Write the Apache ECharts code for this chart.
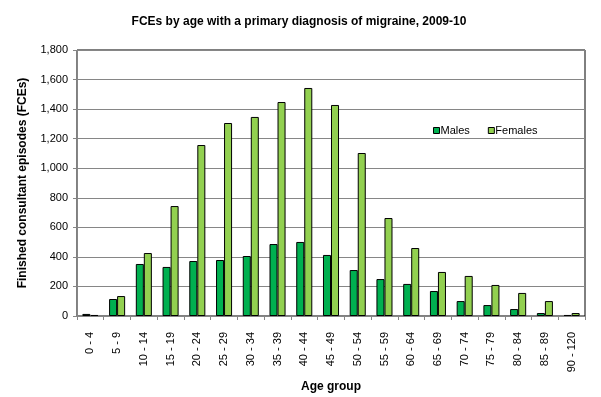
<!DOCTYPE html>
<html><head><meta charset="utf-8">
<script src="https://cdn.jsdelivr.net/npm/echarts@6/dist/echarts.min.js"></script>
<style>html,body{margin:0;padding:0;background:#fff}#c{width:601px;height:397px}</style>
</head><body><div id="c"></div>
<script>
var categories = ["0 - 4","5 - 9","10 - 14","15 - 19","20 - 24","25 - 29","30 - 34","35 - 39","40 - 44","45 - 49","50 - 54","55 - 59","60 - 64","65 - 69","70 - 74","75 - 79","80 - 84","85 - 89","90 - 120"];
var males = [14,115,352,332,372,379,406,487,501,413,311,250,217,169,101,74,47,20,7];
var females = [7,135,426,744,1157,1306,1347,1448,1543,1428,1103,663,460,298,271,210,156,101,20];
var yTicks = [0,200,400,600,800,1000,1200,1400,1600,1800];

var font = 'Liberation Sans, Arial, sans-serif';
var chart = echarts.init(document.getElementById('c'));
chart.setOption({
  animation:false,
  backgroundColor:'#fff',
  textStyle:{fontFamily:font},
  title:{text:'FCEs by age with a primary diagnosis of migraine, 2009-10',left:294,textAlign:'center',top:11,
    textStyle:{fontFamily:font,fontSize:12,fontWeight:'bold',color:'#000'}},
  legend:{left:428,top:120,itemWidth:6,itemHeight:6,itemGap:18,icon:'rect',
    itemStyle:{borderColor:'#000',borderWidth:1},
    textStyle:{fontFamily:font,fontSize:11,color:'#000',padding:[0,0,0,-4]},
    data:['Males','Females']},
  grid:{left:77,right:16,top:50,bottom:81,outerBoundsMode:'none',containLabel:false,show:true,borderColor:'#000',borderWidth:1,backgroundColor:'transparent'},
  xAxis:{type:'category',data:categories,
    name:'Age group',nameLocation:'middle',nameGap:63,
    nameTextStyle:{fontFamily:font,fontSize:12,fontWeight:'bold',color:'#000'},
    axisLine:{lineStyle:{color:'#868686',width:1}},
    axisTick:{show:true,length:4,lineStyle:{color:'#868686'}},
    axisLabel:{rotate:90,fontSize:11,color:'#000',margin:16,fontFamily:font,interval:0}},
  yAxis:{type:'value',min:yTicks[0],max:yTicks[yTicks.length-1],interval:200,
    name:'Finished consultant episodes (FCEs)',nameLocation:'middle',nameGap:48,
    nameTextStyle:{fontFamily:font,fontSize:12,fontWeight:'bold',color:'#000'},
    axisLine:{show:true,lineStyle:{color:'#868686',width:1}},
    axisTick:{show:true,length:4,lineStyle:{color:'#868686'}},
    axisLabel:{fontSize:11,color:'#000',margin:9,fontFamily:font,formatter:function(v){return v.toLocaleString('en-US');}},
    splitLine:{lineStyle:{color:'#868686',width:1}}},
  series:[
    {name:'Males',type:'bar',data:males,barGap:'0%',barCategoryGap:'40%',
      itemStyle:{color:'#00b050',borderColor:'#000',borderWidth:1}},
    {name:'Females',type:'bar',data:females,barGap:'0%',barCategoryGap:'40%',
      itemStyle:{color:'#92d050',borderColor:'#000',borderWidth:1}}
  ]
});
</script></body></html>
